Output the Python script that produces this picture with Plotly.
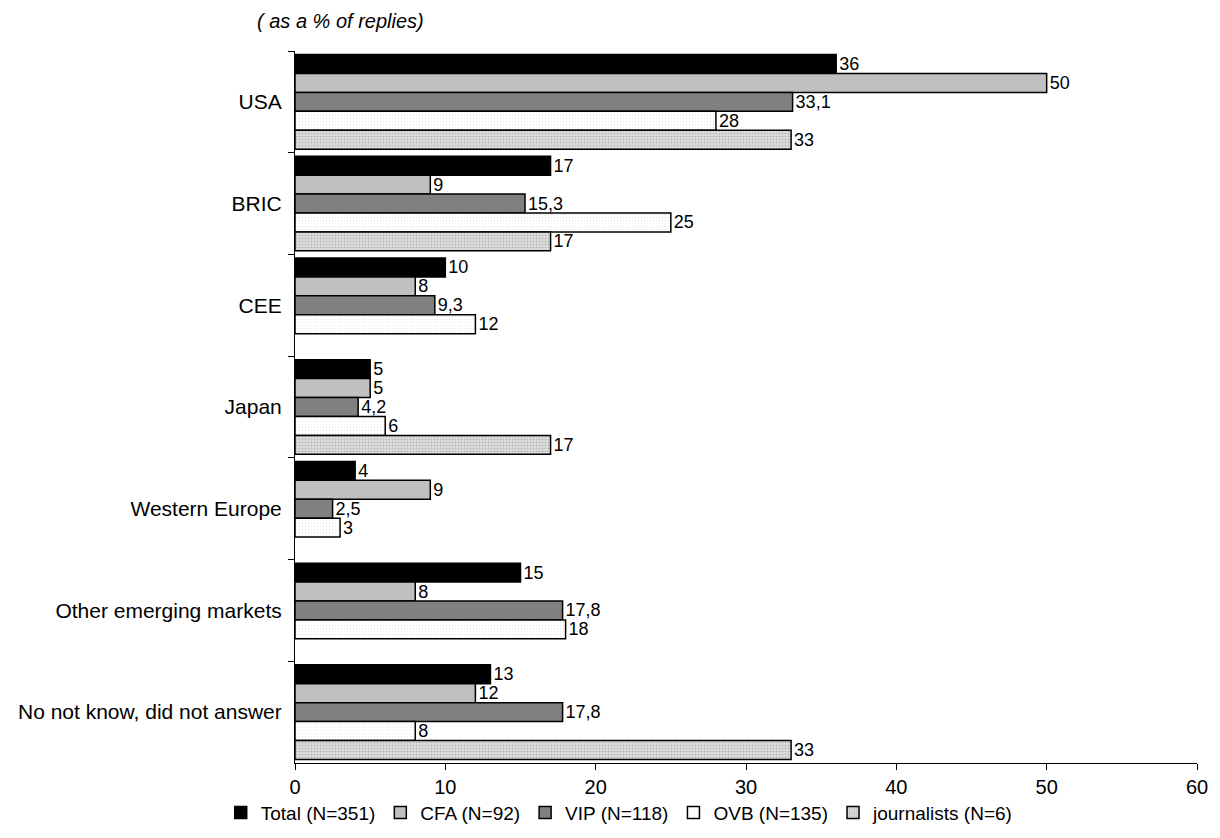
import plotly.graph_objects as go

# Survey regions, top to bottom
regions = ["USA", "BRIC", "CEE", "Japan", "Western Europe",
           "Other emerging markets", "No not know, did not answer"]

# Share of replies per respondent group (%); None = no answers
total = [36, 17, 10, 5, 4, 15, 13]
cfa = [50, 9, 8, 5, 9, 8, 12]
vip = [33.1, 15.3, 9.3, 4.2, 2.5, 17.8, 17.8]
ovb = [28, 25, 12, 6, 3, 18, 8]
journalists = [33, 17, None, 17, None, None, 33]

series_names = ["Total (N=351)", "CFA (N=92)", "VIP (N=118)",
                "OVB (N=135)", "journalists (N=6)"]

x_ticks = [0, 10, 20, 30, 40, 50, 60]

FONT = "Liberation Sans, Arial, sans-serif"


def fmt(v):
    if v is None:
        return ""
    return f"{v:g}".replace(".", ",")


styles = [
    dict(color="#000000"),
    dict(color="#c0c0c0"),
    dict(color="#808080"),
    dict(color="#ffffff",
         pattern=dict(shape=".", fgcolor="#c0c0c0", bgcolor="#ffffff",
                      size=3, solidity=0.12, fillmode="overlay")),
    dict(color="#d4d4d4",
         pattern=dict(shape=".", fgcolor="#8c8c8c", bgcolor="#e0e0e0",
                      size=3, solidity=0.35, fillmode="overlay")),
]

fig = go.Figure()
for name, vals, st in zip(series_names, [total, cfa, vip, ovb, journalists], styles):
    marker = dict(line=dict(color="#000000", width=1.5), **st)
    fig.add_trace(go.Bar(
        y=regions, x=vals, name=name, orientation="h",
        marker=marker,
        text=[fmt(v) for v in vals], textposition="outside",
        textfont=dict(family=FONT, size=18, color="#000000"),
        cliponaxis=False,
    ))

fig.update_layout(
    width=1220, height=838,
    margin=dict(l=295, r=23, t=51, b=75, autoexpand=False),
    paper_bgcolor="white", plot_bgcolor="white",
    barmode="group", bargap=0.07, bargroupgap=0,
    font=dict(family=FONT, size=20, color="#000000"),
    uniformtext=dict(minsize=18, mode="show"),
    showlegend=True,
    legend=dict(orientation="h", x=0.36, xanchor="center", y=-0.043,
                yanchor="top", font=dict(family=FONT, size=19),
                itemwidth=30, tracegroupgap=0, traceorder="normal",
                bgcolor="rgba(0,0,0,0)"),
    xaxis=dict(range=[0, 60], tickvals=x_ticks, showgrid=False,
               zeroline=False, showline=True, linecolor="#000000",
               linewidth=1, ticks="outside", ticklen=6, tickcolor="#000000",
               tickfont=dict(family=FONT, size=20)),
    yaxis=dict(autorange="reversed", showgrid=False, zeroline=False,
               showline=True, linecolor="#000000", linewidth=1,
               ticks="outside", ticklen=6, tickcolor="#000000",
               tickson="boundaries", ticklabelstandoff=8,
               tickfont=dict(family=FONT, size=21)),
    annotations=[dict(text="<i>( as a % of replies)</i>",
                      xref="x domain", yref="y domain",
                      x=-0.044, y=1.042, xanchor="left", yanchor="middle",
                      showarrow=False, font=dict(family=FONT, size=20))],
)

fig.write_html("out.html")
